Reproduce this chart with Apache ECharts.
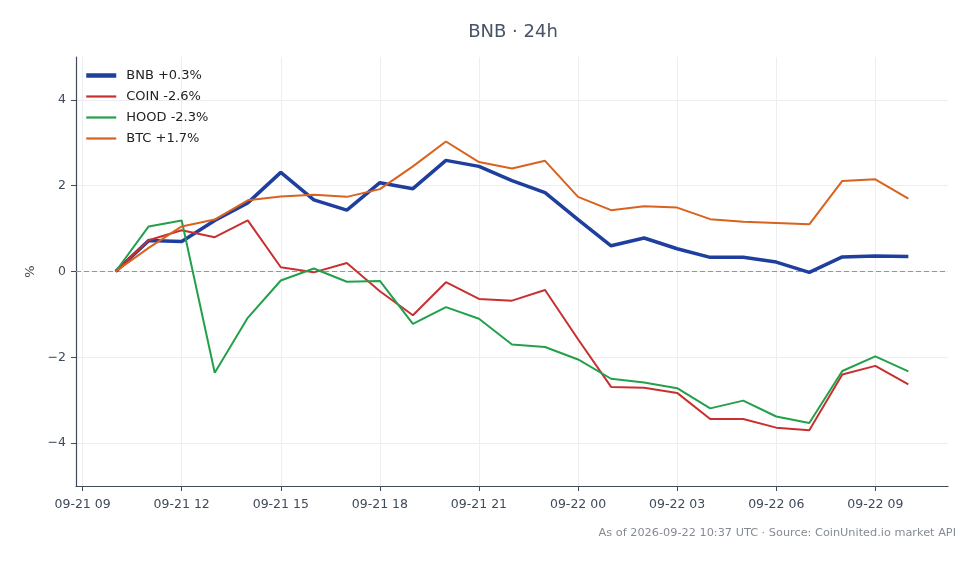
<!DOCTYPE html>
<html>
<head>
<meta charset="utf-8">
<script src="https://cdn.jsdelivr.net/npm/echarts@6/dist/echarts.min.js"></script>
<style>
  html, body { margin: 0; padding: 0; background: #fff; }
  #main { width: 980px; height: 564px; }
</style>
</head>
<body>
<div id="main"></div>
<script>
  // hours counted from 2026-09-21 00:00 UTC; hourly points 09-21 10:00 .. 09-22 10:00
  var hours = [10, 11, 12, 13, 14, 15, 16, 17, 18, 19, 20, 21, 22,
               23, 24, 25, 26, 27, 28, 29, 30, 31, 32, 33, 34];

  var bnb  = [0, 0.72, 0.70, 1.19, 1.60, 2.31, 1.67, 1.43, 2.07, 1.93, 2.59, 2.45, 2.12,
              1.84, 1.21, 0.60, 0.78, 0.53, 0.33, 0.33, 0.22, -0.02, 0.34, 0.36, 0.35];
  var coin = [0, 0.73, 0.96, 0.80, 1.19, 0.10, -0.02, 0.20, -0.46, -1.02, -0.25, -0.64, -0.68,
              -0.43, -1.58, -2.69, -2.71, -2.83, -3.44, -3.44, -3.64, -3.70, -2.40, -2.20, -2.63];
  var hood = [0, 1.05, 1.19, -2.36, -1.08, -0.21, 0.07, -0.24, -0.22, -1.22, -0.83, -1.10, -1.70,
              -1.76, -2.05, -2.50, -2.59, -2.72, -3.19, -3.01, -3.38, -3.53, -2.32, -1.98, -2.33];
  var btc  = [0, 0.55, 1.05, 1.21, 1.66, 1.75, 1.79, 1.74, 1.92, 2.45, 3.03, 2.55, 2.40,
              2.58, 1.74, 1.43, 1.52, 1.49, 1.22, 1.16, 1.13, 1.10, 2.11, 2.15, 1.70];

  var names = ["BNB +0.3%", "COIN -2.6%", "HOOD -2.3%", "BTC +1.7%"];
  var colors = ["#1f3f9e", "#c8302f", "#22a04b", "#d9621f"];
  var widths = [3.5, 2, 2, 2];

  var xTicks = [9, 12, 15, 18, 21, 24, 27, 30, 33];
  var yTicks = [-4, -2, 0, 2, 4];

  function pad(n) { return (n < 10 ? "0" : "") + n; }
  function fmtHour(v) {
    var day = 21 + Math.floor(v / 24);
    var hr = Math.round(v) % 24;
    return "09-" + pad(day) + " " + pad(hr);
  }
  function pairs(arr) {
    return arr.map(function (v, i) { return [hours[i], v]; });
  }

  var font = "DejaVu Sans";
  var txt = "#3f4a5a";

  var series = [bnb, coin, hood, btc].map(function (arr, k) {
    var s = {
      name: names[k],
      type: "line",
      data: pairs(arr),
      symbol: "none",
      showSymbol: false,
      lineStyle: { color: colors[k], width: widths[k] },
      itemStyle: { color: colors[k] },
      z: 3
    };
    if (k === 0) {
      s.markLine = {
        silent: true,
        symbol: "none",
        label: { show: false },
        lineStyle: { color: "#8797ad", type: [5, 3], width: 1 },
        data: [{ yAxis: 0 }],
        z: 1
      };
    }
    return s;
  });

  var legendData = names.map(function (n, k) {
    return { name: n, lineStyle: { width: k === 0 ? 4.5 : 2.2, color: colors[k] } };
  });

  var chart = echarts.init(document.getElementById("main"));
  chart.setOption({
    animation: false,
    backgroundColor: "#fff",
    textStyle: { fontFamily: font },
    title: {
      text: "BNB · 24h",
      left: 508,
      top: 18,
      textAlign: "center",
      textStyle: { fontFamily: font, fontSize: 18, fontWeight: "normal", color: "#475466" }
    },
    grid: { left: 76, right: 32, top: 57, bottom: 78 },
    legend: {
      orient: "vertical",
      left: 79,
      top: 64,
      itemWidth: 30,
      itemHeight: 14,
      itemGap: 8,
      itemStyle: { opacity: 0 },
      data: legendData,
      textStyle: { fontFamily: font, fontSize: 13, color: "#222", padding: [0, 0, 0, 5] }
    },
    xAxis: {
      type: "value",
      min: 8.8,
      max: 35.2,
      axisLine: { show: true, onZero: false, lineStyle: { color: "#3f4a5a", width: 1.2 } },
      axisTick: { show: true, length: 5, customValues: xTicks, lineStyle: { color: "#3f4a5a" } },
      axisLabel: {
        customValues: xTicks,
        formatter: function (v) { return fmtHour(v); },
        color: txt, fontFamily: font, fontSize: 12.5, margin: 12, hideOverlap: false
      },
      splitLine: { show: true, lineStyle: { color: "#eceef1", width: 1 } }
    },
    yAxis: {
      type: "value",
      min: -5,
      max: 5,
      name: "%",
      nameLocation: "middle",
      nameGap: 39,
      nameRotate: 90,
      nameTextStyle: { color: txt, fontFamily: font, fontSize: 13 },
      axisLine: { show: true, lineStyle: { color: "#3f4a5a", width: 1.2 } },
      axisTick: { show: true, length: 5, customValues: yTicks, lineStyle: { color: "#3f4a5a" } },
      axisLabel: {
        customValues: yTicks,
        formatter: function (v) { return String(v).replace("-", "\u2212"); },
        color: txt, fontFamily: font, fontSize: 12.5, margin: 10
      },
      splitLine: { show: true, lineStyle: { color: "#eceef1", width: 1 } }
    },
    graphic: [{
      type: "text",
      right: 24,
      top: 528,
      style: {
        text: "As of 2026-09-22 10:37 UTC · Source: CoinUnited.io market API",
        fill: "#858b94",
        font: "11.3px 'DejaVu Sans'"
      }
    }],
    series: series
  });
</script>
</body>
</html>
